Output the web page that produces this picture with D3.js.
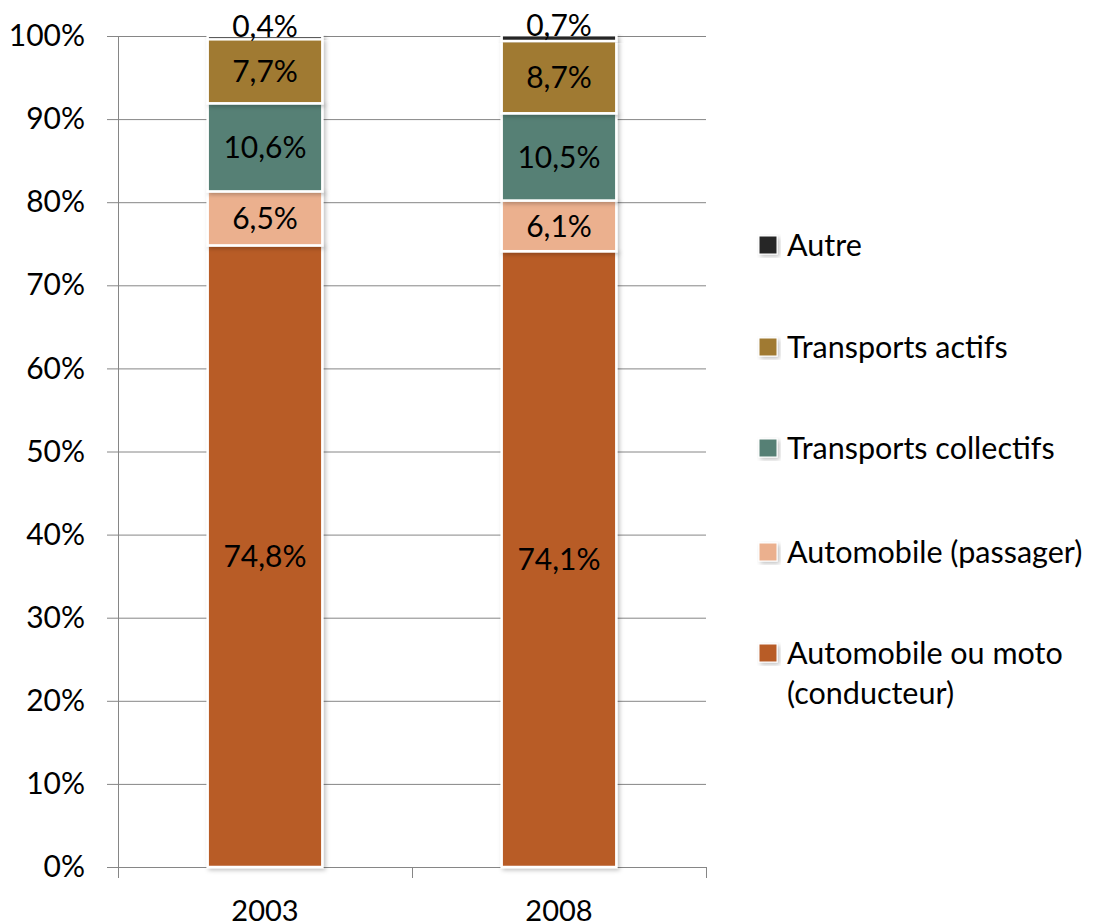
<!DOCTYPE html>
<html>
<head>
<meta charset="utf-8">
<script src="https://cdn.jsdelivr.net/npm/d3@7"></script>
<style>
  body { margin: 0; background: #fff; }
  text { font-family: Lato, "Open Sans", sans-serif; fill: #000; }
</style>
</head>
<body>
<div id="chart"></div>
<script>
// modal share by year (%)
var years = ["2003", "2008"];
var seriesNames = ["Automobile ou moto (conducteur)", "Automobile (passager)", "Transports collectifs", "Transports actifs", "Autre"];
var conducteur = [74.8, 74.1];
var passager = [6.5, 6.1];
var collectifs = [10.6, 10.5];
var actifs = [7.7, 8.7];
var autre = [0.4, 0.7];
var yTicks = [0, 10, 20, 30, 40, 50, 60, 70, 80, 90, 100];
var colors = ["#b85b28", "#ebb08e", "#568075", "#a07a30", "#262626"];

var width = 1097, height = 924;
var svg = d3.select('#chart').append('svg').attr('width', width).attr('height', height);

var defs = svg.append('defs');
var f = defs.append('filter').attr('id', 'shadow').attr('x', '-10%').attr('y', '-10%').attr('width', '130%').attr('height', '130%');
f.append('feDropShadow').attr('dx', 2).attr('dy', 2).attr('stdDeviation', 2).attr('flood-color', '#000').attr('flood-opacity', 0.25);

var rows = years.map(function (y, i) {
    return { year: y, s0: conducteur[i], s1: passager[i], s2: collectifs[i], s3: actifs[i], s4: autre[i] };
});
var keys = ["s0", "s1", "s2", "s3", "s4"];
var stacked = d3.stack().keys(keys)(rows);

var x = d3.scaleBand().domain(years).range([118, 706]);
var y = d3.scaleLinear().domain([0, 100]).range([867, 36]);
var barW = x.bandwidth() * 0.39;

// gridlines + y axis
var yAxis = svg.append('g').attr('transform', 'translate(118,0)')
    .call(d3.axisLeft(y).tickValues(yTicks).tickFormat(function (d) { return d + '%'; })
        .tickSizeInner(11).tickSizeOuter(0).tickPadding(22));
yAxis.select('.domain').remove();
yAxis.selectAll('.tick line').attr('stroke', '#868686').attr('x2', 588).attr('x1', -11);
yAxis.selectAll('.tick text').style('font-size', '30px');
svg.append('line').attr('x1', 118.5).attr('x2', 118.5).attr('y1', y(100)).attr('y2', y(0))
    .attr('stroke', '#868686');

// x axis
var xAxis = svg.append('g').attr('transform', 'translate(0,' + y(0) + ')')
    .call(d3.axisBottom(x).tickSize(0).tickPadding(33));
xAxis.select('.domain').attr('stroke', '#868686');
xAxis.selectAll('.tick text').style('font-size', '29px');
var bounds = years.map(function (d) { return x(d); }).concat([x.range()[1]]);
xAxis.selectAll('.bound').data(bounds).enter().append('line')
    .attr('x1', function (d) { return d + 0.5; }).attr('x2', function (d) { return d + 0.5; })
    .attr('y1', 0).attr('y2', 11).attr('stroke', '#868686');

// bars
var layers = svg.selectAll('.layer').data(stacked).enter().append('g')
    .attr('fill', function (d, i) { return colors[i]; });
layers.selectAll('rect').data(function (d) { return d; }).enter().append('rect')
    .attr('x', function (d) { return x(d.data.year) + (x.bandwidth() - barW) / 2; })
    .attr('width', barW)
    .attr('y', function (d) { return y(d[1]); })
    .attr('height', function (d) { return y(d[0]) - y(d[1]); })
    .attr('stroke', '#fff').attr('stroke-width', 2.5)
    .attr('filter', 'url(#shadow)');

// labels
layers.selectAll('text').data(function (d) {
        return d.map(function (p) { return { p: p, key: d.key }; });
    }).enter().append('text')
    .attr('text-anchor', 'middle')
    .attr('x', function (d) { return x(d.p.data.year) + x.bandwidth() / 2; })
    .attr('y', function (d) {
        var v = d.p[1] - d.p[0];
        if (v < 2) return y(d.p[1]) + 0.5;
        return y((d.p[0] + d.p[1]) / 2) + 11;
    })
    .style('font-size', '30px')
    .text(function (d) { return (d.p[1] - d.p[0]).toFixed(1).replace('.', ',') + '%'; });

// legend
var legendY = [245, 347, 448, 552, 653];
var leg = svg.selectAll('.leg').data(seriesNames.slice().reverse()).enter().append('g')
    .attr('transform', function (d, i) { return 'translate(759,' + legendY[i] + ')'; });
leg.append('rect').attr('x', 0).attr('y', -9).attr('width', 18).attr('height', 18)
    .attr('fill', function (d, i) { return colors[colors.length - 1 - i]; })
    .attr('stroke', '#fff').attr('stroke-width', 1).attr('filter', 'url(#shadow)');
leg.append('text').attr('x', 28).attr('y', 11).style('font-size', '30.5px')
    .each(function (d) {
        var t = d3.select(this);
        var parts = d === "Automobile ou moto (conducteur)" ? ["Automobile ou moto", "(conducteur)"] : [d];
        parts.forEach(function (p, k) {
            t.append('tspan').attr('x', 28).attr('dy', k === 0 ? 0 : 40).text(p);
        });
    });
</script>
</body>
</html>
